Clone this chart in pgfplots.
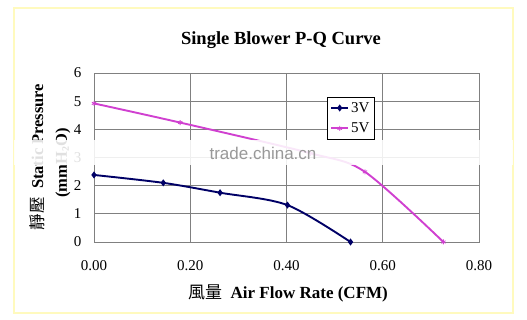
\documentclass[border=0pt]{standalone}
\usepackage{pgfplots}
\pgfplotsset{compat=1.18}
\usepackage{fontspec}
\setmainfont{Liberation Serif}
\newfontfamily\cjk{Noto Sans CJK TC}
\newfontfamily\wm{Liberation Sans}
\definecolor{navy3}{RGB}{0,0,102}
\definecolor{mag5}{RGB}{208,64,208}
\definecolor{gridgray}{RGB}{128,128,128}
\definecolor{frameyel}{RGB}{255,250,190}
\begin{document}
\begin{tikzpicture}[x=1pt,y=1pt]
\path[use as bounding box] (0pt,0pt) rectangle (527pt,320pt);
\draw[frameyel,line width=2pt] (14pt,7pt) rectangle (513pt,312pt);
\begin{axis}[
  at={(94pt,78pt)}, anchor=south west,
  scale only axis, width=385pt, height=169pt,
  xmin=0, xmax=0.8, ymin=0, ymax=6,
  xtick={0,0.2,0.4,0.6,0.8}, ytick={0,1,2,3,4,5,6},
  xticklabel style={/pgf/number format/.cd,fixed,fixed zerofill,precision=2},
  /pgf/number format/assume math mode=true,
  tick label style={font=\fontsize{15}{15}\selectfont},
  xticklabel shift=15pt, yticklabel shift=9pt,
  major tick length=0pt,
  grid=major, major grid style={gridgray, line width=0.8pt},
  axis line style={gridgray, line width=0.8pt},
  legend style={at={(0.605,0.858)}, anchor=north west, draw=black, line width=0.6pt,
    font=\fontsize{15}{16}\selectfont, row sep=5pt, inner sep=3pt},
  legend cell align=left,
  clip=false,
]
\addplot[navy3, line width=1.9pt, smooth, tension=0.5, mark=diamond*, mark size=2pt, mark options={solid, fill=navy3}]
 coordinates {(0,2.38) (0.144,2.10) (0.262,1.75) (0.402,1.31) (0.533,0)};
\addlegendentry{3V}
\addplot[mag5, line width=1.9pt, smooth, tension=0.5, mark=asterisk, mark size=2.5pt, mark options={solid, line width=0.8pt}]
 coordinates {(0,4.92) (0.179,4.24) (0.45,3.15) (0.563,2.49) (0.726,0)};
\addlegendentry{5V}
\end{axis}
% title and axis labels
\node[font=\bfseries\fontsize{18.5}{19}\selectfont] at (281pt,280pt) {Single Blower P-Q Curve};
\node[font=\bfseries\fontsize{17}{17}\selectfont] at (288pt,27pt) {{\cjk\mdseries 風量}\ \ Air Flow Rate (CFM)};
\node[rotate=90, font=\bfseries\fontsize{16.5}{17}\selectfont] at (37pt,163pt) {{\cjk\mdseries 靜壓}\ \ Static Pressure};
\node[rotate=90, font=\bfseries\fontsize{16.5}{17}\selectfont] at (63pt,157pt) {(mmH{\fontsize{10}{10}\selectfont\raisebox{-2pt}{2}}O)};
% watermark band
\fill[white, opacity=0.88] (14pt,155pt) rectangle (513pt,180pt);
\node[font=\wm\fontsize{17}{17}\selectfont, text=gray!80] at (263pt,167pt) {trade.china.cn};
\end{tikzpicture}
\end{document}
